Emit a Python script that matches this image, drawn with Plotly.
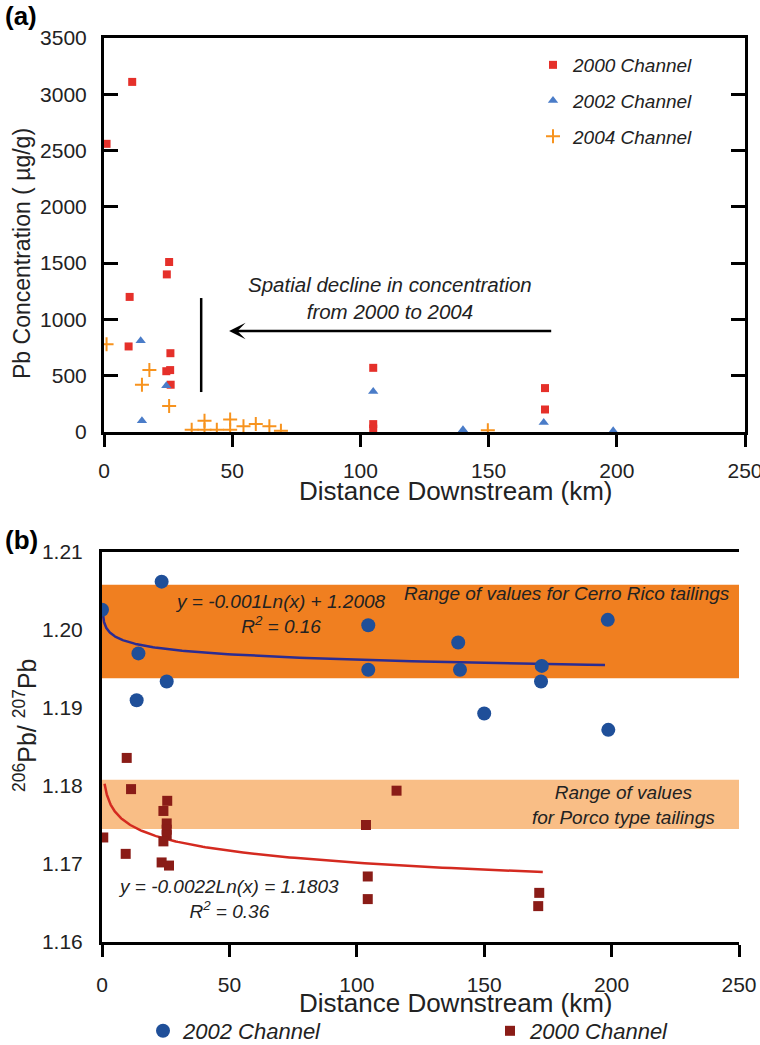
import numpy as np
import plotly.graph_objects as go

# ---------------- Panel (a): Pb concentration vs distance ----------------
a_2000_km = [1, 11, 10, 9.6, 25.4, 24.5, 25.9, 24.3, 25.8, 26, 105, 105, 105, 172, 172]
a_2000_pb = [2560, 3110, 1200, 760, 1510, 1400, 700, 540, 550, 420, 570, 70, 30, 390, 200]

a_2002_km = [14.3, 24.3, 14.8, 105, 140, 171.5, 198.6]
a_2002_pb = [810, 410, 100, 360, 20, 85, 10]

a_2004_km = [1, 17.7, 14.8, 25.4, 34.2, 39.2, 39.2, 44, 49.2, 49.2, 54.4, 59.2, 64.5, 69, 149.7]
a_2004_pb = [780, 550, 420, 230, 20, 100, 20, 20, 110, 20, 50, 70, 50, 10, 15]

# ---------------- Panel (b): 206Pb/207Pb vs distance ----------------
b_2002_km = [0, 23.4, 14.3, 25.4, 13.6, 104.5, 104.5, 139.8, 140.5, 172.6, 172.3, 150, 198.5, 198.7]
b_2002_ratio = [1.2026, 1.2062, 1.1970, 1.1934, 1.1910, 1.2006, 1.1949, 1.1984, 1.1949,
                1.1954, 1.1934, 1.1893, 1.2013, 1.1872]

b_2000_km = [9.7, 11.4, 25.6, 24.1, 25.4, 25.4, 25.4, 24.1, 0.5, 9.3, 23.4, 26.3,
             103.6, 104.3, 104.3, 115.6, 171.6, 171.2]
b_2000_ratio = [1.1836, 1.1796, 1.1781, 1.1768, 1.1752, 1.1744, 1.1737, 1.1729, 1.1734,
                1.1713, 1.1702, 1.1698, 1.1750, 1.1684, 1.1655, 1.1794, 1.1663, 1.1646]

# Logarithmic fits printed on the chart: y = a*ln(x) + b
fit_2002 = dict(a=-0.001, b=1.2008, x0=0.2, x1=197.4)
fit_2000 = dict(a=-0.0022, b=1.1803, x0=1.0, x1=173.0)

# Reference ranges for tailings signatures
cerro_rico_range = [1.1938, 1.2058]
porco_range = [1.1745, 1.1808]

x_ticks = [0, 50, 100, 150, 200, 250]
a_y_ticks = [0, 500, 1000, 1500, 2000, 2500, 3000, 3500]
b_y_ticks = [1.16, 1.17, 1.18, 1.19, 1.20, 1.21]
b_left_minor = [1.165, 1.17, 1.175, 1.18]
b_right_minor = [1.165, 1.17, 1.175, 1.18, 1.185, 1.19, 1.195, 1.20]

FONT = "Liberation Sans, Arial, sans-serif"
W, H = 760, 1045


def px_x(p):
    return p / W


def px_y(p):
    return 1 - p / H


fig = go.Figure()

# Panel (a) markers
fig.add_trace(go.Scatter(x=a_2000_km, y=a_2000_pb, mode="markers", name="2000 Channel",
                         marker=dict(symbol="square", size=8, color="#E5302A"),
                         xaxis="x", yaxis="y", legend="legend", legendgroup="a1"))
fig.add_trace(go.Scatter(x=a_2002_km, y=a_2002_pb, mode="markers", name="2002 Channel",
                         marker=dict(symbol="triangle-up", size=9, color="#4A7CC8"),
                         xaxis="x", yaxis="y", legend="legend", legendgroup="a2"))
fig.add_trace(go.Scatter(x=a_2004_km, y=a_2004_pb, mode="markers", name="2004 Channel",
                         marker=dict(symbol="cross-thin", size=10,
                                     line=dict(color="#F7931E", width=2)),
                         xaxis="x", yaxis="y", legend="legend", legendgroup="a3"))

# Panel (b) fitted curves
for fit, col in ((fit_2002, "#2B2C92"), (fit_2000, "#D42A20")):
    xs = np.geomspace(fit["x0"], fit["x1"], 200)
    ys = fit["a"] * np.log(xs) + fit["b"]
    fig.add_trace(go.Scatter(x=xs, y=ys, mode="lines", line=dict(color=col, width=2.5),
                             xaxis="x2", yaxis="y3", showlegend=False, hoverinfo="skip"))

# Panel (b) markers
fig.add_trace(go.Scatter(x=b_2002_km, y=b_2002_ratio, mode="markers", name="2002 Channel",
                         marker=dict(symbol="circle", size=14, color="#1F4F99"),
                         xaxis="x2", yaxis="y3", legend="legend2"))
fig.add_trace(go.Scatter(x=b_2000_km, y=b_2000_ratio, mode="markers", name="2000 Channel",
                         marker=dict(symbol="square", size=10, color="#8A1C17"),
                         xaxis="x2", yaxis="y3", legend="legend3"))

axis_common = dict(showline=True, linecolor="black", linewidth=3, showgrid=False,
                   zeroline=False, tickfont=dict(family=FONT, size=21, color="#222"),
                   tickcolor="black", tickwidth=2.5, automargin=False,
                   ticklabeloverflow="allow")

xa = dict(axis_common, range=[0, 250], tickvals=x_ticks, ticks="outside", ticklen=12,
          mirror=True, ticklabelposition="outside")

leg_font = dict(family=FONT, size=19, color="#222", style="italic")
leg_font_b = dict(family=FONT, size=22, color="#222", style="italic")

fig.update_layout(
    width=W, height=H,
    margin=dict(l=0, r=0, t=0, b=0, autoexpand=False),
    paper_bgcolor="white", plot_bgcolor="rgba(0,0,0,0)",
    xaxis=dict(xa, domain=[px_x(104), px_x(745)], anchor="y", ticklabelstandoff=6),
    yaxis=dict(axis_common, domain=[px_y(432), px_y(38)], anchor="x", range=[0, 3500],
               tickvals=a_y_ticks, ticks="inside", ticklen=14, mirror="ticks",
               ticklabelstandoff=10),
    xaxis2=dict(xa, domain=[px_x(102), px_x(739)], anchor="y3", ticklabelstandoff=10),
    yaxis3=dict(axis_common, domain=[px_y(942), px_y(552)], anchor="x2", range=[1.16, 1.21],
                tickvals=b_y_ticks, tickformat=".2f", ticks="", ticklabelstandoff=12),
    yaxis4=dict(overlaying="y3", anchor="x2", side="left", range=[1.16, 1.21],
                tickvals=b_left_minor, ticks="inside", ticklen=13, tickwidth=2.5,
                tickcolor="black", showticklabels=False, showline=False, showgrid=False,
                zeroline=False),
    yaxis5=dict(overlaying="y3", anchor="x2", side="right", range=[1.16, 1.21],
                tickvals=b_right_minor, ticks="inside", ticklen=11, tickwidth=2.5,
                tickcolor="black", showticklabels=False, showline=True, linecolor="black",
                linewidth=3, showgrid=False, zeroline=False),
    legend=dict(x=px_x(533), y=px_y(46), xanchor="left", yanchor="top",
                bgcolor="rgba(0,0,0,0)", tracegroupgap=8, traceorder="grouped",
                font=leg_font),
    legend2=dict(orientation="h", x=px_x(143), y=px_y(1031), xanchor="left", yanchor="middle",
                 bgcolor="rgba(0,0,0,0)", font=leg_font_b),
    legend3=dict(orientation="h", x=px_x(490), y=px_y(1031), xanchor="left", yanchor="middle",
                 bgcolor="rgba(0,0,0,0)", font=leg_font_b),
    showlegend=True,
)

# Tailings ranges behind the data
fig.add_shape(type="rect", xref="x2", yref="y3", x0=0, x1=250,
              y0=cerro_rico_range[0], y1=cerro_rico_range[1],
              fillcolor="#F07F20", line=dict(width=0), layer="below")
fig.add_shape(type="rect", xref="x2", yref="y3", x0=0, x1=250,
              y0=porco_range[0], y1=porco_range[1],
              fillcolor="#F9BE86", line=dict(width=0), layer="below")

# Decline marker and arrow in panel (a)
fig.add_shape(type="line", xref="x", yref="y", x0=37.9, x1=37.9, y0=355, y1=1190,
              line=dict(color="black", width=2.5))
fig.add_annotation(xref="x", yref="y", x=48.8, y=897, ax=175, ay=897, axref="x", ayref="y",
                   showarrow=True, arrowhead=3, arrowsize=1.1, arrowwidth=2.5,
                   arrowcolor="black", text="")

ital = dict(family=FONT, size=20.5, color="#222", style="italic")
fig.add_annotation(xref="x", yref="y", x=111.5, y=1190, showarrow=False,
                   text="Spatial decline in concentration<br>from 2000 to 2004", font=ital)

ital_b = dict(family=FONT, size=19, color="#222", style="italic")
fig.add_annotation(xref="x2", yref="y3", x=69.9, y=1.2021, showarrow=False,
                   text="y = -0.001Ln(x) + 1.2008<br>R<sup>2</sup> = 0.16", font=ital_b)
fig.add_annotation(xref="x2", yref="y3", x=182.5, y=1.2047, showarrow=False,
                   text="Range of values for Cerro Rico tailings", font=ital_b)
fig.add_annotation(xref="x2", yref="y3", x=204.7, y=1.1776, showarrow=False,
                   text="Range of values<br>for Porco type tailings", font=ital_b)
fig.add_annotation(xref="x2", yref="y3", x=49.5, y=1.1655, showarrow=False,
                   text="y = -0.0022Ln(x) = 1.1803<br>R<sup>2</sup> = 0.36", font=ital_b)

# Panel letters and axis titles
bold = dict(family=FONT, size=26, color="black", weight="bold")
fig.add_annotation(xref="paper", yref="paper", x=px_x(3), y=px_y(16), xanchor="left",
                   yanchor="middle", showarrow=False, text="(a)", font=bold)
fig.add_annotation(xref="paper", yref="paper", x=px_x(3), y=px_y(540), xanchor="left",
                   yanchor="middle", showarrow=False, text="(b)", font=bold)

title_font = dict(family=FONT, size=26, color="#222")
for y_px in (491, 1003):
    fig.add_annotation(xref="paper", yref="paper", x=px_x(456), y=px_y(y_px),
                       xanchor="center", yanchor="middle", showarrow=False,
                       text="Distance Downstream (km)", font=title_font)
fig.add_annotation(xref="paper", yref="paper", x=px_x(22), y=px_y(254), textangle=-90,
                   xanchor="center", yanchor="middle", showarrow=False,
                   text="Pb Concentration ( µg/g)",
                   font=dict(family=FONT, size=23, color="#222"))
fig.add_annotation(xref="paper", yref="paper", x=px_x(25), y=px_y(726), textangle=-90,
                   xanchor="center", yanchor="middle", showarrow=False,
                   text="<sup>206</sup>Pb/ <sup>207</sup>Pb",
                   font=dict(family=FONT, size=25, color="#222"))

fig.write_html("out.html")
